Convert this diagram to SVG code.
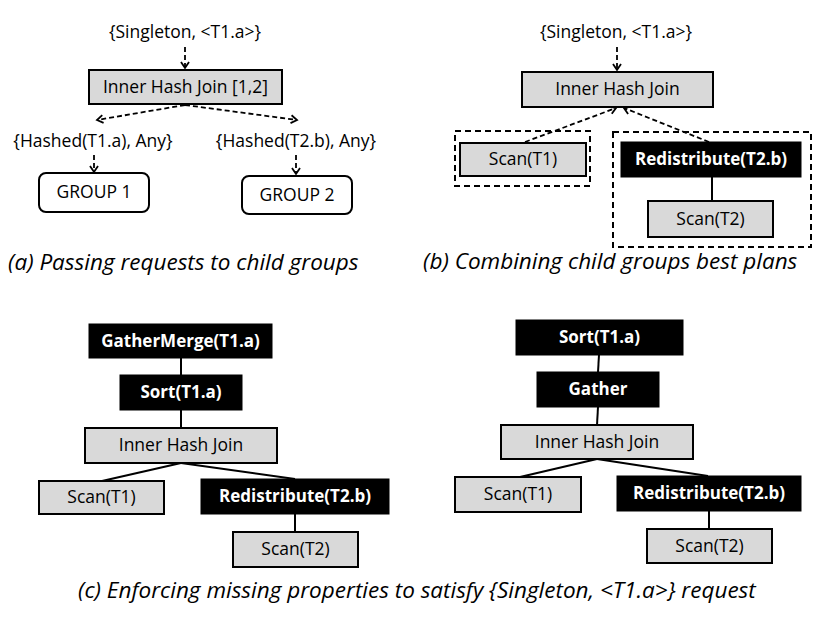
<svg xmlns="http://www.w3.org/2000/svg" width="836" height="630" viewBox="0 0 836 630">
<defs>
<style>
.t{font-family:"Open Sans","Liberation Sans",sans-serif;font-size:17.5px;fill:#000;text-anchor:middle}
.b{font-family:"Open Sans","Liberation Sans",sans-serif;font-size:17px;font-weight:bold;fill:#fff;text-anchor:middle}
.cap{font-family:"Open Sans","Liberation Sans",sans-serif;font-size:22.5px;font-style:italic;fill:#000}
.g{fill:#d9d9d9;stroke:#000;stroke-width:2}
.k{fill:#000;stroke:#000;stroke-width:1}
.w{fill:#fff;stroke:#000;stroke-width:2}
.d{fill:none;stroke:#000;stroke-width:2;stroke-dasharray:6,4}
.da{fill:none;stroke:#000;stroke-width:1.8;stroke-dasharray:5,3;marker-end:url(#ah)}
.s{fill:none;stroke:#000;stroke-width:2}
</style>
<marker id="ah" markerUnits="userSpaceOnUse" markerWidth="12" markerHeight="12" refX="7" refY="5" orient="auto">
<path d="M1,1 L7,5 L1,9" fill="none" stroke="#000" stroke-width="1.8"/>
</marker>
</defs>
<rect width="836" height="630" fill="#fff"/>

<g id="connectors">
<!-- (a) -->
<line class="da" x1="185" y1="47" x2="185" y2="68"/>
<line class="da" x1="185" y1="105" x2="97" y2="120"/>
<line class="da" x1="185" y1="105" x2="297" y2="120"/>
<line class="da" x1="94" y1="155" x2="94" y2="172"/>
<line class="da" x1="296" y1="155" x2="296" y2="174"/>
<!-- (b) -->
<line class="da" x1="617" y1="47" x2="617" y2="70"/>
<line class="da" x1="525" y1="142" x2="616" y2="108"/>
<line class="da" x1="709" y1="142" x2="624" y2="108"/>
<line class="s" x1="712" y1="177" x2="712" y2="201"/>
<!-- (c) left -->
<line class="s" x1="181" y1="358" x2="181" y2="375"/>
<line class="s" x1="181" y1="410" x2="181" y2="428"/>
<line class="s" x1="181" y1="463" x2="102" y2="481"/>
<line class="s" x1="181" y1="463" x2="295" y2="479"/>
<line class="s" x1="295" y1="514" x2="295" y2="532"/>
<!-- (c) right -->
<line class="s" x1="599" y1="355" x2="598" y2="372"/>
<line class="s" x1="598" y1="407" x2="597" y2="425"/>
<line class="s" x1="597" y1="459" x2="520" y2="477"/>
<line class="s" x1="597" y1="459" x2="708" y2="476"/>
<line class="s" x1="709" y1="511" x2="709" y2="529"/>
</g>

<!-- Panel (a) -->
<text id="a-req" class="t" x="185" y="38">{Singleton, &lt;T1.a&gt;}</text>
<g id="a-join"><rect class="g" x="89" y="70" width="193" height="34"/><text class="t" x="185.5" y="93">Inner Hash Join [1,2]</text></g>
<text id="a-req1" class="t" x="93" y="147">{Hashed(T1.a), Any}</text>
<text id="a-req2" class="t" x="296" y="147">{Hashed(T2.b), Any}</text>
<g id="a-group1"><rect class="w" x="39" y="173" width="110" height="39" rx="7"/><text class="t" x="94" y="198">GROUP 1</text></g>
<g id="a-group2"><rect class="w" x="242" y="176" width="110" height="38" rx="7"/><text class="t" x="297" y="201">GROUP 2</text></g>
<text id="a-cap" class="cap" x="8" y="270">(a) Passing requests to child groups</text>

<!-- Panel (b) -->
<text id="b-req" class="t" x="616" y="38">{Singleton, &lt;T1.a&gt;}</text>
<g id="b-join"><rect class="g" x="522" y="72" width="191" height="35"/><text class="t" x="617.5" y="95">Inner Hash Join</text></g>
<g id="b-box1"><rect class="d" x="455" y="131" width="135" height="55"/></g>
<g id="b-scan1"><rect class="g" x="460" y="143" width="126" height="33"/><text class="t" x="523" y="165">Scan(T1)</text></g>
<g id="b-box2"><rect class="d" x="613" y="132" width="198" height="115"/></g>
<g id="b-redist"><rect class="k" x="621" y="142" width="180" height="35"/><text class="b" x="711" y="165">Redistribute(T2.b)</text></g>
<g id="b-scan2"><rect class="g" x="648" y="201" width="125" height="36"/><text class="t" x="710.5" y="225">Scan(T2)</text></g>
<text id="b-cap" class="cap" x="423" y="269">(b) Combining child groups best plans</text>

<!-- Panel (c) left -->
<g id="c1-gm"><rect class="k" x="89" y="324" width="183" height="34"/><text class="b" x="180.5" y="347">GatherMerge(T1.a)</text></g>
<g id="c1-sort"><rect class="k" x="120" y="375" width="122" height="35"/><text class="b" x="181" y="398">Sort(T1.a)</text></g>
<g id="c1-join"><rect class="g" x="85" y="428" width="192" height="35"/><text class="t" x="181" y="451">Inner Hash Join</text></g>
<g id="c1-scan1"><rect class="g" x="39" y="481" width="125" height="33"/><text class="t" x="101.5" y="503">Scan(T1)</text></g>
<g id="c1-redist"><rect class="k" x="201" y="479" width="188" height="35"/><text class="b" x="295" y="502">Redistribute(T2.b)</text></g>
<g id="c1-scan2"><rect class="g" x="233" y="532" width="125" height="35"/><text class="t" x="295.5" y="555">Scan(T2)</text></g>

<!-- Panel (c) right -->
<g id="c2-sort"><rect class="k" x="516" y="320" width="167" height="35"/><text class="b" x="599.5" y="343">Sort(T1.a)</text></g>
<g id="c2-gather"><rect class="k" x="537" y="372" width="122" height="35"/><text class="b" x="598" y="395">Gather</text></g>
<g id="c2-join"><rect class="g" x="501" y="425" width="192" height="34"/><text class="t" x="597" y="448">Inner Hash Join</text></g>
<g id="c2-scan1"><rect class="g" x="455" y="477" width="126" height="35"/><text class="t" x="518" y="500">Scan(T1)</text></g>
<g id="c2-redist"><rect class="k" x="617" y="476" width="184" height="35"/><text class="b" x="709" y="499">Redistribute(T2.b)</text></g>
<g id="c2-scan2"><rect class="g" x="647" y="529" width="125" height="34"/><text class="t" x="709.5" y="552">Scan(T2)</text></g>

<text id="c-cap" class="cap" x="78" y="598">(c) Enforcing missing properties to satisfy {Singleton, &lt;T1.a&gt;} request</text>
</svg>
